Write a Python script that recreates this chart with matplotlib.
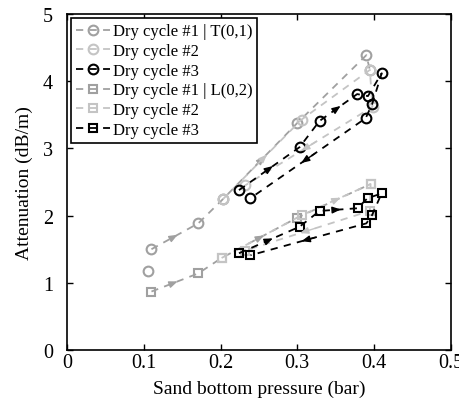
import matplotlib
matplotlib.use('Agg')
import matplotlib.pyplot as plt
import numpy as np

nan = np.nan

# T(0,1) mode, three dry cycles
t1_x = [0.106, nan, 0.110, 0.171, 0.2035, 0.300, 0.390, 0.3945]
t1_y = [1.18, nan, 1.50, 1.885, 2.25, 3.38, 4.39, 4.17]
t2_x = [0.2035, 0.3055, 0.3945, 0.398, 0.232]
t2_y = [2.25, 3.43, 4.17, 3.62, 2.45]
t3_x = [0.224, 0.303, 0.329, 0.378, 0.392, 0.410, 0.3975, 0.389, 0.239]
t3_y = [2.38, 3.02, 3.41, 3.81, 3.78, 4.12, 3.66, 3.45, 2.26]

# L(0,2) mode, three dry cycles
l1_x = [0.110, 0.171, 0.2014, 0.300, 0.3955]
l1_y = [0.87, 1.14, 1.37, 1.97, 2.47]
l2_x = [0.2014, 0.3065, 0.3955, 0.3945, 0.232]
l2_y = [1.37, 2.01, 2.47, 2.07, 1.48]
l3_x = [0.224, 0.303, 0.329, 0.3785, 0.3915, 0.4098, 0.3975, 0.390, 0.239]
l3_y = [1.44, 1.835, 2.07, 2.11, 2.26, 2.33, 2.01, 1.885, 1.41]

labels = ['Dry cycle #1 | T(0,1)', 'Dry cycle #2', 'Dry cycle #3',
          'Dry cycle #1 | L(0,2)', 'Dry cycle #2', 'Dry cycle #3']

plt.rcParams['font.family'] = ['Liberation Serif', 'DejaVu Serif']

fig = plt.figure(figsize=(4.6, 4.1), dpi=100)
ax = fig.add_axes([0.1457, 0.144, 0.8343, 0.819])

mid = '#a0a0a0'
light = '#c4c4c4'
series = [
    (t1_x, t1_y, mid, 'o', 7, [2, 4]),
    (t2_x, t2_y, light, 'o', 7, [0, 3]),
    (t3_x, t3_y, 'black', 'o', 7, [0, 2, 7]),
    (l1_x, l1_y, mid, 's', 6, [0, 2]),
    (l2_x, l2_y, light, 's', 6, [1, 3]),
    (l3_x, l3_y, 'black', 's', 6, [0, 2, 7]),
]

for (x, y, c, m, ms, arr), lab in zip(series, labels):
    ax.plot(x, y, ls='--', dashes=(4, 3.5), color=c, lw=1.3, marker=m, ms=ms,
            mfc='none', mec=c, mew=1.5, label=lab)
    for i in arr:
        x0, y0, x1, y1 = x[i], y[i], x[i + 1], y[i + 1]
        ax.annotate('', xy=(x0 + 0.56 * (x1 - x0), y0 + 0.56 * (y1 - y0)),
                    xytext=(x0 + 0.44 * (x1 - x0), y0 + 0.44 * (y1 - y0)),
                    arrowprops=dict(arrowstyle='-|>,head_length=0.5,head_width=0.2',
                                    color=c, lw=1.0, shrinkA=0, shrinkB=0))

ax.set_xlim(0, 0.5)
ax.set_ylim(0, 5)
ax.set_xticks([0, 0.1, 0.2, 0.3, 0.4, 0.5])
ax.set_xticklabels(['0', '0.1', '0.2', '0.3', '0.4', '0.5'])
ax.set_yticks([0, 1, 2, 3, 4, 5])
ax.tick_params(direction='in', length=4, width=1, top=True, right=True,
               labelsize=14.5)
ax.tick_params(axis='x', pad=2)
ax.tick_params(axis='y', pad=10)
for s in ax.spines.values():
    s.set_linewidth(1.2)

ax.set_xlabel('Sand bottom pressure (bar)', fontsize=14, labelpad=6)
ax.set_ylabel('Attenuation (dB/m)', fontsize=14, labelpad=7)

leg = ax.legend(loc='upper left', fontsize=12, handlelength=2.0,
                handletextpad=0.2, labelspacing=0.22, borderpad=0.3,
                borderaxespad=0.25, fancybox=False, framealpha=1)
leg.get_frame().set_edgecolor('black')
leg.get_frame().set_linewidth(1.2)

fig.savefig('out.png', dpi=100)
